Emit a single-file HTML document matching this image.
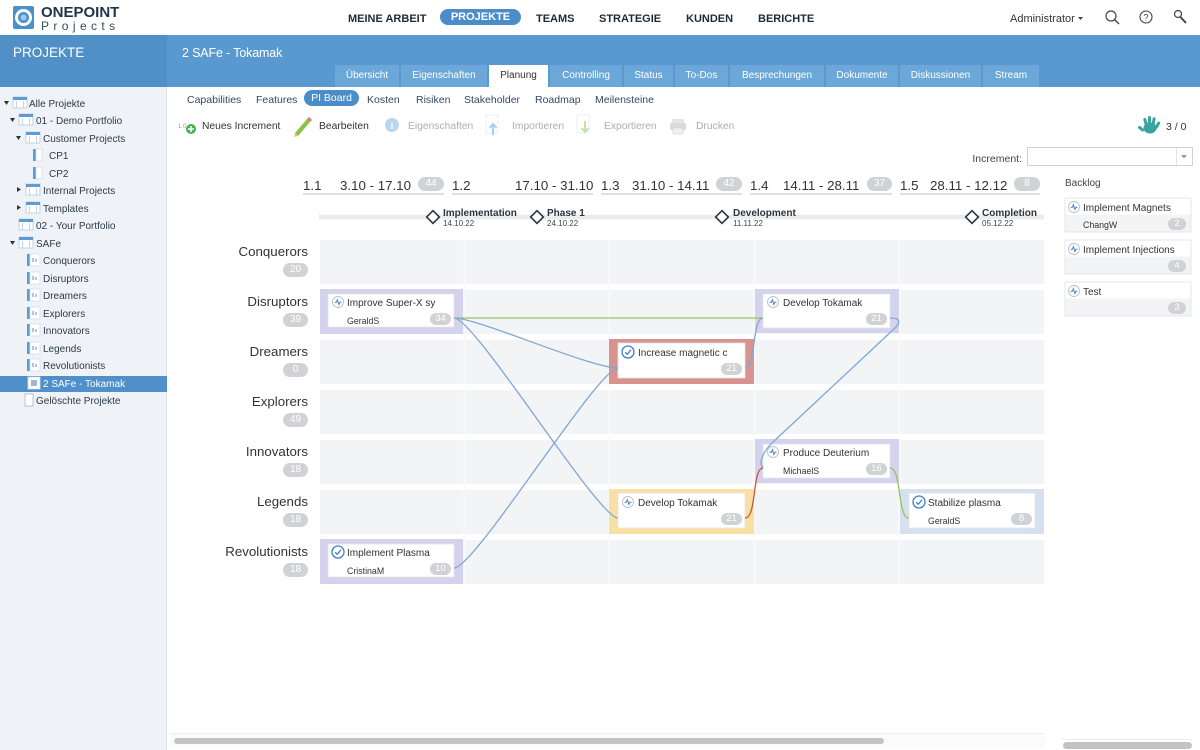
<!DOCTYPE html>
<html><head><meta charset="utf-8">
<style>
*{margin:0;padding:0;box-sizing:border-box}
body{width:1200px;height:750px;overflow:hidden;background:#fff;font-family:"Liberation Sans",Arial,sans-serif;position:relative;color:#333}
.a{position:absolute}
.t{position:absolute;white-space:nowrap;height:16px;line-height:16px;margin-top:1.5px}
.nav{font-size:11px;font-weight:bold;color:#1c2b3a;top:9px}
.tab{position:absolute;top:65px;height:22px;line-height:22px;background:#6ba7d9;color:#fff;font-size:10px;text-align:center}
.sub{font-size:10.5px;color:#34476a;top:90px}
.tb{font-size:10.3px;top:117px}
.tr{font-size:10px;color:#2d3a48}
.rl{font-size:13.3px;color:#333;text-align:right;right:892px}
.bg{position:absolute;height:14px;line-height:14px;border-radius:7px;background:#d0d2d5;color:#fff;font-size:10px;text-align:center}
.cb{position:absolute;height:12px;line-height:12px;border-radius:6px;background:#d0d2d5;color:#fff;font-size:9.5px;text-align:center;width:21px}
.ih{font-size:13.3px;color:#333;top:176px}
.ct{font-size:10px;color:#333}
.cn{font-size:8.8px;color:#333}
.ms{font-size:10px;font-weight:bold;color:#2c3440}
.md{font-size:8px;color:#444}
</style></head><body>

<!-- header -->
<svg class="a" style="left:12px;top:5px" width="24" height="25">
<rect x="1" y="1" width="21" height="23" rx="2" fill="#4b90c9"/>
<circle cx="11.5" cy="12.5" r="7" fill="none" stroke="#fff" stroke-width="3"/>
<circle cx="11.5" cy="12.5" r="3" fill="#9cc7ea"/>
</svg>
<div class="t" style="left:41px;top:3px;font-size:15px;font-weight:bold;color:#1f3447">ONEPOINT</div>
<div class="t" style="left:41px;top:16px;font-size:12px;color:#3a4a5a;letter-spacing:4.4px">Projects</div>

<div class="t nav" style="left:348px">MEINE ARBEIT</div>
<div class="a" style="left:440px;top:9px;width:81px;height:16px;border-radius:8px;background:#4b8dc9;color:#fff;font-size:11px;font-weight:bold;text-align:center;line-height:17px">PROJEKTE</div>
<div class="t nav" style="left:536px">TEAMS</div>
<div class="t nav" style="left:599px">STRATEGIE</div>
<div class="t nav" style="left:686px">KUNDEN</div>
<div class="t nav" style="left:758px">BERICHTE</div>

<div class="t" style="left:1010px;top:9px;font-size:11px;color:#333">Administrator</div>
<svg class="a" style="left:1076px;top:14px" width="10" height="8"><path d="M2 3 L7 3 L4.5 6 Z" fill="#444"/></svg>
<svg class="a" style="left:1100px;top:6px" width="95" height="24">
<circle cx="11" cy="10" r="5" fill="none" stroke="#444" stroke-width="1.2"/>
<line x1="14.5" y1="13.5" x2="19" y2="18" stroke="#444" stroke-width="1.4"/>
<circle cx="46" cy="11" r="6" fill="none" stroke="#444" stroke-width="1.1"/>
<text x="46" y="14.5" font-size="9" text-anchor="middle" fill="#444" font-family="Liberation Sans, sans-serif">?</text>
<circle cx="78" cy="8" r="3.5" fill="none" stroke="#444" stroke-width="1.2"/>
<line x1="80" y1="10.5" x2="86" y2="17" stroke="#444" stroke-width="2"/>
</svg>

<!-- blue band -->
<div class="a" style="left:0;top:35px;width:1200px;height:52px;background:#5a99cf"></div>
<div class="a" style="left:0;top:35px;width:167px;height:52px;background:#5190c6"></div>
<div class="t" style="left:13px;top:43px;font-size:13.5px;color:#fff">PROJEKTE</div>
<div class="t" style="left:182px;top:43px;font-size:12.5px;color:#fff;letter-spacing:-0.15px">2 SAFe - Tokamak</div>

<div class="tab" style="left:335px;width:64px">Übersicht</div>
<div class="tab" style="left:401px;width:86px">Eigenschaften</div>
<div class="tab" style="left:489px;width:59px;background:#fff;color:#333">Planung</div>
<div class="tab" style="left:550px;width:72px">Controlling</div>
<div class="tab" style="left:624px;width:49px">Status</div>
<div class="tab" style="left:675px;width:53px">To-Dos</div>
<div class="tab" style="left:730px;width:94px">Besprechungen</div>
<div class="tab" style="left:826px;width:72px">Dokumente</div>
<div class="tab" style="left:900px;width:81px">Diskussionen</div>
<div class="tab" style="left:983px;width:56px">Stream</div>

<!-- sidebar -->
<div class="a" style="left:0;top:87px;width:167px;height:663px;background:#eff2f6;border-right:1px solid #dfe4ea"></div>
<div class="a" style="left:0;top:376px;width:167px;height:16px;background:#4f8fca"></div>
<svg class="a" style="left:0;top:88px" width="167" height="330">
<defs>
<g id="fo"><rect x="0" y="0" width="14" height="11" fill="#fff" stroke="#c2d4e6" stroke-width="1"/><rect x="0" y="0" width="14" height="3" fill="#5d9bd3"/><rect x="3" y="4" width="1" height="7" fill="#c2d4e6"/><rect x="10" y="4" width="1" height="7" fill="#c2d4e6"/></g>
<g id="pr"><rect x="0" y="0" width="3" height="12" fill="#5d9bd3"/><rect x="3" y="0" width="6" height="12" fill="#fff" stroke="#d5dde6" stroke-width="0.8"/></g>
<g id="sf"><rect x="0" y="0" width="3" height="12" fill="#5d9bd3"/><rect x="3" y="0" width="10" height="12" fill="#fff" stroke="#d5dde6" stroke-width="0.8"/><rect x="5" y="4" width="2" height="4" fill="#b9c4cf"/><rect x="8" y="5" width="2" height="3" fill="#b9c4cf"/></g>
<path id="ad" d="M0 0 L5 0 L2.5 4 Z" fill="#333"/>
<path id="ar" d="M0 0 L4 2.5 L0 5 Z" fill="#333"/>
</defs>
<use href="#ad" x="4" y="13"/><use href="#fo" x="13" y="9"/>
<use href="#ad" x="10" y="30"/><use href="#fo" x="19" y="26"/>
<use href="#ad" x="16" y="48"/><use href="#fo" x="26" y="44"/>
<use href="#pr" x="33" y="61"/>
<use href="#pr" x="33" y="79"/>
<use href="#ar" x="17" y="99"/><use href="#fo" x="26" y="96"/>
<use href="#ar" x="17" y="117"/><use href="#fo" x="26" y="114"/>
<use href="#fo" x="19" y="131"/>
<use href="#ad" x="10" y="153"/><use href="#fo" x="19" y="149"/>
<use href="#sf" x="27" y="166"/>
<use href="#sf" x="27" y="184"/>
<use href="#sf" x="27" y="201"/>
<use href="#sf" x="27" y="219"/>
<use href="#sf" x="27" y="236"/>
<use href="#sf" x="27" y="254"/>
<use href="#sf" x="27" y="271"/>
<rect x="28" y="289" width="12" height="12" fill="#fff" stroke="#d5dde6" stroke-width="0.8"/><rect x="31" y="292" width="6" height="6" fill="#9fb6cc"/>
<rect x="25" y="306" width="8" height="12" fill="#fff" stroke="#aab7c4" stroke-width="0.8"/>
</svg>
<div class="t tr" style="left:29px;top:95px">Alle Projekte</div>
<div class="t tr" style="left:36px;top:112px">01 - Demo Portfolio</div>
<div class="t tr" style="left:43px;top:130px">Customer Projects</div>
<div class="t tr" style="left:49px;top:147px">CP1</div>
<div class="t tr" style="left:49px;top:165px">CP2</div>
<div class="t tr" style="left:43px;top:182px">Internal Projects</div>
<div class="t tr" style="left:43px;top:200px">Templates</div>
<div class="t tr" style="left:36px;top:217px">02 - Your Portfolio</div>
<div class="t tr" style="left:36px;top:235px">SAFe</div>
<div class="t tr" style="left:43px;top:252px">Conquerors</div>
<div class="t tr" style="left:43px;top:270px">Disruptors</div>
<div class="t tr" style="left:43px;top:287px">Dreamers</div>
<div class="t tr" style="left:43px;top:305px">Explorers</div>
<div class="t tr" style="left:43px;top:322px">Innovators</div>
<div class="t tr" style="left:43px;top:340px">Legends</div>
<div class="t tr" style="left:43px;top:357px">Revolutionists</div>
<div class="t tr" style="left:43px;top:375px;color:#fff">2 SAFe - Tokamak</div>
<div class="t tr" style="left:36px;top:392px">Gelöschte Projekte</div>

<!-- sub tabs -->
<div class="t sub" style="left:187px">Capabilities</div>
<div class="t sub" style="left:256px">Features</div>
<div class="a" style="left:304px;top:90px;width:55px;height:16px;border-radius:8px;background:#4b8dc9;color:#fff;font-size:10.5px;text-align:center;line-height:17px">PI Board</div>
<div class="t sub" style="left:367px">Kosten</div>
<div class="t sub" style="left:416px">Risiken</div>
<div class="t sub" style="left:464px">Stakeholder</div>
<div class="t sub" style="left:535px">Roadmap</div>
<div class="t sub" style="left:595px">Meilensteine</div>

<!-- toolbar -->
<svg class="a" style="left:175px;top:113px" width="520" height="24">
<text x="3" y="15" font-size="6" fill="#999" font-family="Liberation Sans, sans-serif">1.0</text>
<circle cx="16" cy="16" r="5" fill="#4caf50"/>
<path d="M13 16 H19 M16 13 V19" stroke="#fff" stroke-width="1.5"/>
<path d="M120 20 L132 6 L135 9 L123 23 Z" fill="#8bc34a"/>
<path d="M120 20 L123 23 L119 24 Z" fill="#f0c070"/>
<path d="M132 6 L134 4 L137 7 L135 9 Z" fill="#e57373"/>
<circle cx="217" cy="12" r="7" fill="#b9d6ee"/>
<text x="217" y="16" font-size="9" text-anchor="middle" fill="#fff" font-weight="bold" font-family="Liberation Sans, sans-serif">i</text>
<rect x="311" y="2" width="12" height="18" fill="none" stroke="#eceef0"/>
<path d="M318 22 V12 M314.5 15 L318 11 L321.5 15" stroke="#a9cdec" stroke-width="2" fill="none"/>
<rect x="402" y="2" width="12" height="18" fill="none" stroke="#eceef0"/>
<path d="M410 8 V19 M406.5 15 L410 19 L413.5 15" stroke="#c5dfa6" stroke-width="2" fill="none"/>
<rect x="497" y="6" width="12" height="4" fill="#e3e5e7"/>
<rect x="495" y="10" width="16" height="7" rx="1" fill="#d9dbde"/>
<rect x="498" y="15" width="10" height="6" fill="#eef0f2" stroke="#d0d3d6" stroke-width="0.6"/>
</svg>
<div class="t tb" style="left:202px;color:#333">Neues Increment</div>
<div class="t tb" style="left:319px;color:#333">Bearbeiten</div>
<div class="t tb" style="left:408px;color:#a9aeb4">Eigenschaften</div>
<div class="t tb" style="left:512px;color:#a9aeb4">Importieren</div>
<div class="t tb" style="left:604px;color:#a9aeb4">Exportieren</div>
<div class="t tb" style="left:696px;color:#a9aeb4">Drucken</div>

<svg class="a" style="left:1138px;top:114px" width="24" height="22">
<g fill="#3aa3a0">
<ellipse cx="12" cy="14" rx="6.5" ry="5.5"/>
<rect x="6" y="4" width="3" height="9" rx="1.5" transform="rotate(-15 7 8)"/>
<rect x="10" y="2" width="3" height="10" rx="1.5"/>
<rect x="14" y="3" width="3" height="10" rx="1.5" transform="rotate(10 15 8)"/>
<rect x="18" y="7" width="3" height="8" rx="1.5" transform="rotate(30 19 11)"/>
<rect x="1" y="11" width="3" height="7" rx="1.5" transform="rotate(-50 3 14)"/>
</g></svg>
<div class="t" style="left:1166px;top:117px;font-size:10.5px;color:#333">3 / 0</div>

<div class="t" style="right:178px;top:149px;font-size:10.5px;color:#444">Increment:</div>
<div class="a" style="left:1027px;top:147px;width:166px;height:19px;border:1px solid #cfd3d7;background:#fff"></div>
<div class="a" style="left:1176px;top:148px;width:1px;height:17px;background:#e2e4e6"></div>
<svg class="a" style="left:1180px;top:153px" width="10" height="8"><path d="M1 2 L7 2 L4 5.5 Z" fill="#999"/></svg>

<!-- board svg -->
<svg class="a" style="left:0;top:0" width="1200" height="750">
<g fill="#dedfe1">
<rect x="303" y="193" width="141" height="2"/>
<rect x="452" y="193" width="141" height="2"/>
<rect x="601" y="193" width="141" height="2"/>
<rect x="750" y="193" width="142" height="2"/>
<rect x="900" y="193" width="140" height="2"/>
</g>
<rect x="319" y="214.5" width="725" height="5" fill="#ececed"/>
<g fill="#fff" stroke="#2c3440" stroke-width="1.6">
<rect x="-4.5" y="-4.5" width="9" height="9" transform="translate(433 217) rotate(45)"/>
<rect x="-4.5" y="-4.5" width="9" height="9" transform="translate(537 217) rotate(45)"/>
<rect x="-4.5" y="-4.5" width="9" height="9" transform="translate(722 217) rotate(45)"/>
<rect x="-4.5" y="-4.5" width="9" height="9" transform="translate(972 217) rotate(45)"/>
</g>
<g fill="#f3f4f6">
<rect x="320" y="240" width="724" height="44"/>
<rect x="320" y="290" width="724" height="44"/>
<rect x="320" y="340" width="724" height="44"/>
<rect x="320" y="390" width="724" height="44"/>
<rect x="320" y="440" width="724" height="44"/>
<rect x="320" y="490" width="724" height="44"/>
<rect x="320" y="540" width="724" height="44"/>
</g>
<g fill="#f9fafb">
<rect x="463.5" y="240" width="1.5" height="344"/>
<rect x="608.5" y="240" width="1.5" height="344"/>
<rect x="753.5" y="240" width="1.5" height="344"/>
<rect x="898.5" y="240" width="1.5" height="344"/>
</g>
<!-- frames -->
<rect x="320" y="289" width="143" height="45" fill="#d4d2ed"/>
<rect x="609" y="339" width="145" height="45" fill="#d9938e"/>
<rect x="755" y="289" width="144" height="44" fill="#d4d2ed"/>
<rect x="755" y="439" width="144" height="44" fill="#d4d2ed"/>
<rect x="609" y="489" width="145" height="45" fill="#f8e0a4"/>
<rect x="900" y="489" width="144" height="45" fill="#d5e1ef"/>
<rect x="320" y="539" width="143" height="45" fill="#d4d2ed"/>
<g fill="#fff" stroke="#e3e4e6" stroke-width="0.8">
<rect x="328" y="294" width="126" height="33"/>
<rect x="618" y="343" width="127" height="35"/>
<rect x="763" y="294" width="127" height="34"/>
<rect x="763" y="444" width="127" height="34"/>
<rect x="618" y="493" width="127" height="35"/>
<rect x="909" y="493" width="126" height="35"/>
<rect x="328" y="544" width="126" height="33"/>
</g>
<!-- lines -->
<g fill="none" stroke-width="1.3">
<path d="M454 318 L763 318" stroke="#9cc05e"/>
<path d="M454 318 C478 318 590 368 618 368" stroke="#7fa8d3"/>
<path d="M454 318 C475 318 598 518 618 518" stroke="#7fa8d3"/>
<path d="M454 568 C475 568 598 368 618 368" stroke="#7fa8d3"/>
<path d="M745 368 C756 368 752 318 763 318" stroke="#7fa8d3"/>
<path d="M890 318 C900 318 901 322 895 328 L772 443 C764 451 758 462 763 468" stroke="#7fa8d3"/>
<path d="M745 518 C757 518 752 468 763 468" stroke="#c9573c"/>
<path d="M890 468 C902 468 897 518 909 518" stroke="#9cc05e"/>
</g>
<!-- card icons -->
<defs>
<g id="pu"><circle r="5.5" fill="#fff" stroke="#b5c2cf" stroke-width="0.9"/><path d="M-3.5 0.3 H-1.6 L-0.6 -2.3 L0.9 2.5 L1.9 0.3 H3.5" fill="none" stroke="#4a84c0" stroke-width="1"/></g>
<g id="ck"><circle r="6" fill="#fff" stroke="#3d7fc1" stroke-width="1.3"/><path d="M-2.8 0.2 L-0.8 2.3 L3 -2.2" fill="none" stroke="#3d7fc1" stroke-width="1.3"/></g>
</defs>
<use href="#pu" x="338" y="302"/>
<use href="#ck" x="628" y="352"/>
<use href="#pu" x="773" y="302"/>
<use href="#pu" x="773" y="452"/>
<use href="#pu" x="628" y="502"/>
<use href="#ck" x="919" y="502"/>
<use href="#ck" x="338" y="552"/>
<!-- backlog cards -->
<g stroke="#dfe1e3" stroke-width="0.8">
<rect x="1065" y="198" width="126" height="34" fill="#f3f4f5"/>
<rect x="1065" y="240" width="126" height="34" fill="#f3f4f5"/>
<rect x="1065" y="282" width="126" height="34" fill="#f3f4f5"/>
</g>
<g fill="#fff">
<rect x="1065.5" y="198.5" width="125" height="16"/>
<rect x="1065.5" y="240.5" width="125" height="16"/>
<rect x="1065.5" y="282.5" width="125" height="16"/>
</g>
<use href="#pu" x="1074" y="207"/>
<use href="#pu" x="1074" y="249"/>
<use href="#pu" x="1074" y="291"/>
<!-- scrollbars -->
<rect x="170" y="733" width="875" height="1" fill="#eceef0"/>
<rect x="170" y="734" width="875" height="14" fill="#fafbfb"/>
<rect x="174" y="738" width="710" height="6" rx="3" fill="#c2c3c5"/>
<rect x="1062" y="739" width="130" height="1" fill="#eceef0"/>
<rect x="1063" y="742" width="129" height="7" rx="3.5" fill="#c2c3c5"/>
</svg>

<!-- increment headers -->
<div class="t ih" style="left:303px">1.1</div>
<div class="t ih" style="left:340px">3.10 - 17.10</div>
<div class="bg" style="left:418px;top:177px;width:26px">44</div>
<div class="t ih" style="left:452px">1.2</div>
<div class="t ih" style="left:515px">17.10 - 31.10</div>
<div class="t ih" style="left:601px">1.3</div>
<div class="t ih" style="left:632px">31.10 - 14.11</div>
<div class="bg" style="left:716px;top:177px;width:26px">42</div>
<div class="t ih" style="left:750px">1.4</div>
<div class="t ih" style="left:783px">14.11 - 28.11</div>
<div class="bg" style="left:867px;top:177px;width:25px">37</div>
<div class="t ih" style="left:900px">1.5</div>
<div class="t ih" style="left:930px">28.11 - 12.12</div>
<div class="bg" style="left:1014px;top:177px;width:26px">8</div>

<!-- milestones -->
<div class="t ms" style="left:443px;top:204px">Implementation</div>
<div class="t md" style="left:443px;top:214px">14.10.22</div>
<div class="t ms" style="left:547px;top:204px">Phase 1</div>
<div class="t md" style="left:547px;top:214px">24.10.22</div>
<div class="t ms" style="left:733px;top:204px">Development</div>
<div class="t md" style="left:733px;top:214px">11.11.22</div>
<div class="t ms" style="left:982px;top:204px">Completion</div>
<div class="t md" style="left:982px;top:214px">05.12.22</div>

<!-- row labels -->
<div class="t rl" style="top:242px">Conquerors</div>
<div class="bg" style="left:283px;top:263px;width:25px">20</div>
<div class="t rl" style="top:292px">Disruptors</div>
<div class="bg" style="left:283px;top:313px;width:25px">39</div>
<div class="t rl" style="top:342px">Dreamers</div>
<div class="bg" style="left:283px;top:363px;width:25px">0</div>
<div class="t rl" style="top:392px">Explorers</div>
<div class="bg" style="left:283px;top:413px;width:25px">49</div>
<div class="t rl" style="top:442px">Innovators</div>
<div class="bg" style="left:283px;top:463px;width:25px">18</div>
<div class="t rl" style="top:492px">Legends</div>
<div class="bg" style="left:283px;top:513px;width:25px">18</div>
<div class="t rl" style="top:542px">Revolutionists</div>
<div class="bg" style="left:283px;top:563px;width:25px">18</div>

<!-- card texts -->
<div class="t ct" style="left:347px;top:294px">Improve Super-X sy</div>
<div class="t cn" style="left:347px;top:311px">GeraldS</div>
<div class="cb" style="left:430px;top:313px">34</div>

<div class="t ct" style="left:638px;top:344px">Increase magnetic c</div>
<div class="cb" style="left:721px;top:363px">21</div>

<div class="t ct" style="left:783px;top:294px">Develop Tokamak</div>
<div class="cb" style="left:866px;top:313px">21</div>

<div class="t ct" style="left:783px;top:444px">Produce Deuterium</div>
<div class="t cn" style="left:783px;top:461px">MichaelS</div>
<div class="cb" style="left:866px;top:463px">16</div>

<div class="t ct" style="left:638px;top:494px">Develop Tokamak</div>
<div class="cb" style="left:721px;top:513px">21</div>

<div class="t ct" style="left:928px;top:494px">Stabilize plasma</div>
<div class="t cn" style="left:928px;top:511px">GeraldS</div>
<div class="cb" style="left:1011px;top:513px">8</div>

<div class="t ct" style="left:347px;top:544px">Implement Plasma</div>
<div class="t cn" style="left:347px;top:561px">CristinaM</div>
<div class="cb" style="left:430px;top:563px">10</div>

<!-- backlog -->
<div class="t" style="left:1065px;top:174px;font-size:10px;color:#444">Backlog</div>
<div class="t ct" style="left:1083px;top:199px;width:106px;overflow:hidden">Implement Magnets</div>
<div class="t cn" style="left:1083px;top:215px">ChangW</div>
<div class="cb" style="left:1168px;top:218px;width:18px">2</div>
<div class="t ct" style="left:1083px;top:241px;width:107px;overflow:hidden">Implement Injections</div>
<div class="cb" style="left:1168px;top:260px;width:18px">4</div>
<div class="t ct" style="left:1083px;top:283px">Test</div>
<div class="cb" style="left:1168px;top:302px;width:18px">3</div>

</body></html>
